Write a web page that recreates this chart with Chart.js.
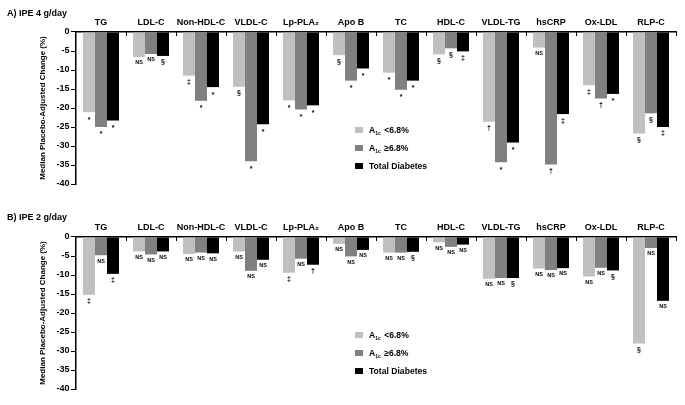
<!DOCTYPE html>
<html>
<head>
<meta charset="utf-8">
<script src="https://cdn.jsdelivr.net/npm/chart.js@4.4.1/dist/chart.umd.min.js"></script>
<style>
  body { margin: 0; background: #fff; font-family: 'Liberation Sans', Arial, sans-serif; }
  .panel { position: absolute; left: 0; width: 685px; height: 200px; }
  .title { position: absolute; left: 7px; font-weight: bold; font-size: 9px; line-height: 10px; white-space: nowrap; }
  .legend { position: absolute; left: 355px; top: 123px; font-weight: bold; font-size: 8.6px; line-height: 15px; }
  .legend div { white-space: nowrap; }
  .legend span.sw { display: inline-block; width: 8px; height: 6px; margin-right: 6px; vertical-align: 0px; }
  .legend sub { font-size: 5px; vertical-align: -2px; margin-right: 1px; }
</style>
</head>
<body>
<div class="panel" style="top:0"><canvas id="chartA"></canvas>
  <div class="title" style="top:8px">A) IPE 4 g/day</div>
  <div class="legend">
    <div><span class="sw" style="background:#c0c0c0"></span>A<sub>1c</sub> &lt;6.8%</div>
    <div><span class="sw" style="background:#808080"></span>A<sub>1c</sub> ≥6.8%</div>
    <div><span class="sw" style="background:#000"></span>Total Diabetes</div>
  </div>
</div>
<div class="panel" style="top:205px"><canvas id="chartB"></canvas>
  <div class="title" style="top:7px">B) IPE 2 g/day</div>
  <div class="legend">
    <div><span class="sw" style="background:#c0c0c0"></span>A<sub>1c</sub> &lt;6.8%</div>
    <div><span class="sw" style="background:#808080"></span>A<sub>1c</sub> ≥6.8%</div>
    <div><span class="sw" style="background:#000"></span>Total Diabetes</div>
  </div>
</div>
<script>
const categories = ["TG", "LDL-C", "Non-HDL-C", "VLDL-C", "Lp-PLA₂", "Apo B", "TC", "HDL-C", "VLDL-TG", "hsCRP", "Ox-LDL", "RLP-C"];
const yTicks = [0, -5, -10, -15, -20, -25, -30, -35, -40];

// IPE 4 g/day
const ipe4Low   = [-21.1, -6.6, -11.5, -14.4, -18.0, -6.1, -10.7, -5.9, -23.6, -4.1, -14.0, -26.7];
const ipe4High  = [-25.0, -5.8, -18.1, -34.0, -20.4, -12.8, -15.2, -4.3, -34.3, -34.9, -17.5, -21.4];
const ipe4Total = [-23.3, -6.3, -14.5, -24.3, -19.3, -9.6, -12.8, -5.1, -29.1, -21.6, -16.3, -25.0];
const ipe4LowSig   = ["*", "NS", "‡", "§", "*", "§", "*", "§", "†", "NS", "‡", "§"];
const ipe4HighSig  = ["*", "NS", "*", "*", "*", "*", "*", "§", "*", "†", "†", "§"];
const ipe4TotalSig = ["*", "§", "*", "*", "*", "*", "*", "‡", "*", "‡", "*", "‡"];

// IPE 2 g/day
const ipe2Low   = [-15.2, -3.8, -4.5, -3.8, -9.4, -1.8, -4.1, -1.4, -11.0, -8.3, -10.4, -28.0];
const ipe2High  = [-4.8, -4.6, -4.1, -8.9, -5.7, -5.1, -4.1, -2.6, -10.8, -8.7, -8.1, -2.9];
const ipe2Total = [-9.7, -3.8, -4.3, -6.0, -7.3, -3.4, -3.9, -2.0, -10.8, -8.2, -8.8, -16.8];
const ipe2LowSig   = ["‡", "NS", "NS", "NS", "‡", "NS", "NS", "NS", "NS", "NS", "NS", "§"];
const ipe2HighSig  = ["NS", "NS", "NS", "NS", "NS", "NS", "NS", "NS", "NS", "NS", "NS", "NS"];
const ipe2TotalSig = ["‡", "NS", "NS", "NS", "†", "NS", "§", "NS", "§", "NS", "§", "NS"];

const FONT = "'Liberation Sans', Arial, sans-serif";
const colors = ["#c0c0c0", "#808080", "#000000"];

// significance marks under the bars + small ticks between categories
const marksPlugin = {
    id: "marks",
    afterDatasetsDraw(chart) {
        const ctx = chart.ctx;
        const xs = chart.scales.x;
        const top = chart.chartArea.top;
        ctx.save();
        ctx.fillStyle = "#000";
        ctx.textAlign = "center";
        ctx.textBaseline = "top";
        chart.data.datasets.forEach((ds, di) => {
            chart.getDatasetMeta(di).data.forEach((bar, i) => {
                const m = ds.marks[i];
                ctx.font = (m === "NS" ? "bold 5.5px " : "bold 7px ") + FONT;
                ctx.fillText(m, bar.x, bar.y + (m === "*" ? 4 : 3));
            });
        });
        const half = (xs.getPixelForValue(1) - xs.getPixelForValue(0)) / 2;
        ctx.strokeStyle = "#000";
        ctx.lineWidth = 1;
        ctx.beginPath();
        for (let i = 0; i < categories.length; i++) {
            const px = Math.round(xs.getPixelForValue(i) + half) + 0.5;
            ctx.moveTo(px, top);
            ctx.lineTo(px, top + 4);
        }
        ctx.stroke();
        ctx.restore();
    },
};

function makeChart(id, low, high, total, lowSig, highSig, totalSig) {
    const ctx = document.getElementById(id).getContext("2d");
    return new Chart(ctx, {
        type: "bar",
        data: {
            labels: categories,
            datasets: [
                { label: "A1c <6.8%", data: low, marks: lowSig, backgroundColor: colors[0] },
                { label: "A1c ≥6.8%", data: high, marks: highSig, backgroundColor: colors[1] },
                { label: "Total Diabetes", data: total, marks: totalSig, backgroundColor: colors[2] },
            ],
        },
        options: {
            responsive: true,
            maintainAspectRatio: false,
            animation: false,
            categoryPercentage: 0.72,
            barPercentage: 1.0,
            borderWidth: 0,
            layout: { padding: { top: 13.2, bottom: 16, left: 33, right: 9 } },
            plugins: {
                legend: { display: false },
                tooltip: { enabled: false },
            },
            scales: {
                x: {
                    position: "top",
                    offset: true,
                    grid: { display: false, drawTicks: false },
                    border: { display: true, color: "#000", width: 1.5 },
                    ticks: { color: "#000", padding: 4, font: { family: FONT, size: 9, weight: "bold" }, maxRotation: 0, autoSkip: false },
                },
                y: {
                    min: -40,
                    max: 0,
                    afterFit(scale) { scale.width = 43; },
                    afterBuildTicks(scale) { scale.ticks = yTicks.map(v => ({ value: v })); },
                    grid: { drawOnChartArea: false, drawTicks: true, tickLength: 5, color: "#000", lineWidth: 1 },
                    border: { display: true, color: "#000", width: 1.5 },
                    ticks: { color: "#000", padding: 1.5, font: { family: FONT, size: 9, weight: "bold" } },
                    title: {
                        display: true,
                        text: "Median Placebo-Adjusted Change (%)",
                        color: "#000",
                        padding: { top: 5, bottom: 2 },
                        font: { family: FONT, size: 8, weight: "bold" },
                    },
                },
            },
        },
        plugins: [marksPlugin],
    });
}

makeChart("chartA", ipe4Low, ipe4High, ipe4Total, ipe4LowSig, ipe4HighSig, ipe4TotalSig);
makeChart("chartB", ipe2Low, ipe2High, ipe2Total, ipe2LowSig, ipe2HighSig, ipe2TotalSig);
</script>
</body>
</html>
